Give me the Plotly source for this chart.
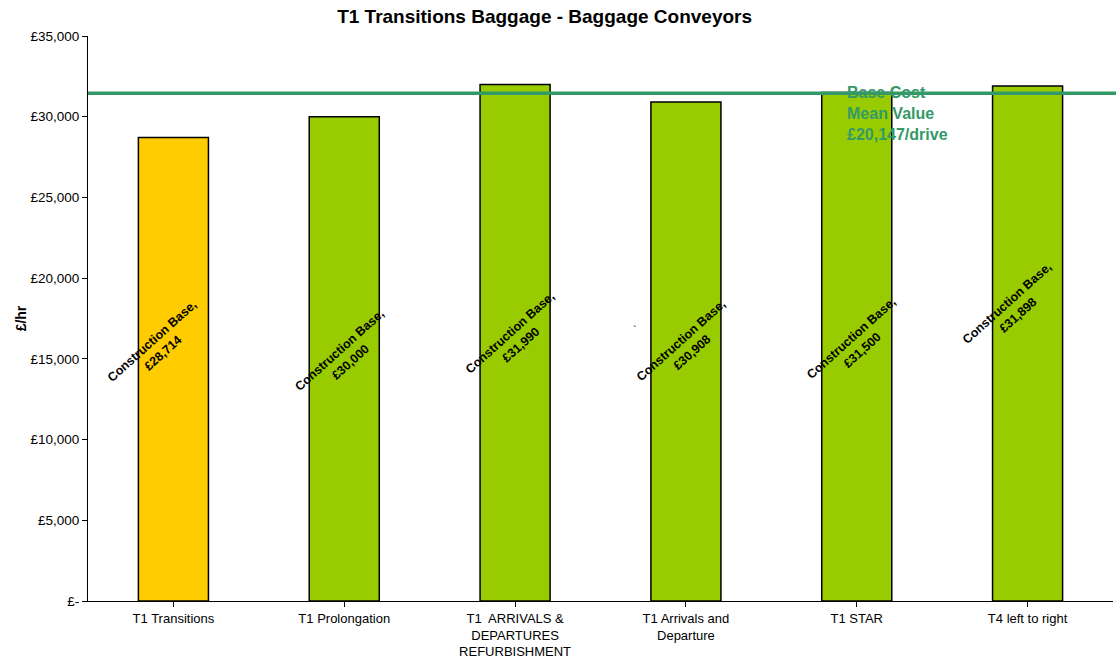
import plotly.graph_objects as go

categories = ["T1 Transitions", "T1 Prolongation", "T1  ARRIVALS &<br>DEPARTURES<br>REFURBISHMENT",
              "T1 Arrivals and<br>Departure", "T1 STAR", "T4 left to right"]
values = [28714, 30000, 31990, 30908, 31500, 31898]
bar_colors = ["#FFCC00", "#99CC00", "#99CC00", "#99CC00", "#99CC00", "#99CC00"]
series_name = "Construction Base"
base_cost_line = 31450
tick_vals = [0, 5000, 10000, 15000, 20000, 25000, 30000, 35000]
tick_text = ["£-", "£5,000", "£10,000", "£15,000", "£20,000", "£25,000", "£30,000", "£35,000"]

FONT = "Liberation Sans, Arial"

fig = go.Figure()
fig.add_trace(go.Bar(
    x=list(range(len(categories))), y=values,
    marker=dict(color=bar_colors, line=dict(color="#000000", width=1.5)),
    width=0.41, showlegend=False, hoverinfo="skip",
))

# rotated data labels inside each bar
label_y = [15750, 15150, 16250, 15800, 15950, 18100]
label_dx = [-16, 1, 0, 1, 0, -15]
for i, v in enumerate(values):
    fig.add_annotation(
        x=i, y=label_y[i], xshift=label_dx[i],
        text=f"<b>{series_name},<br>£{v:,}</b>", showarrow=False, textangle=-42,
        font=dict(family=FONT, size=12.5, color="#000000"),
        align="center",
    )
fig.add_annotation(x=2.7, y=16800, text="`", showarrow=False,
                   font=dict(family=FONT, size=11, color="#000000"))

# base cost mean line
fig.add_shape(type="line", xref="paper", x0=0, x1=1.01, yref="y",
              y0=base_cost_line, y1=base_cost_line,
              line=dict(color="#339966", width=3.5))
fig.add_annotation(
    x=3.93, y=31450, xanchor="left", yanchor="top", yshift=11,
    text="<b>Base Cost<br>Mean Value<br>£20,147/drive</b>", showarrow=False, align="left",
    font=dict(family=FONT, size=16, color="#339966"),
)

fig.update_layout(
    width=1116, height=661,
    margin=dict(l=88, r=3, t=36, b=60),
    paper_bgcolor="white", plot_bgcolor="white",
    title=dict(text="<b>T1 Transitions Baggage - Baggage Conveyors</b>", x=0.488, xanchor="center",
               y=0.975, yanchor="middle",
               font=dict(family=FONT, size=19, color="#000000")),
    font=dict(family=FONT, size=13, color="#000000"),
)
fig.update_xaxes(
    tickvals=list(range(len(categories))), ticktext=categories,
    range=[-0.5, len(categories) - 0.5], automargin=False,
    showline=True, linecolor="#000000", linewidth=1,
    ticks="outside", ticklen=5, tickcolor="#000000", tickson="boundaries",
    showgrid=False, tickfont=dict(size=13),
)
fig.update_yaxes(
    range=[0, 35000], tickvals=tick_vals, ticktext=tick_text, automargin=False,
    showline=True, linecolor="#000000", linewidth=1,
    ticks="outside", ticklen=5, tickcolor="#000000",
    showgrid=False, zeroline=False,
    title=dict(text="<b>£/hr</b>", font=dict(size=14), standoff=0),
    tickfont=dict(size=13.5),
)

fig.write_html("out.html")
